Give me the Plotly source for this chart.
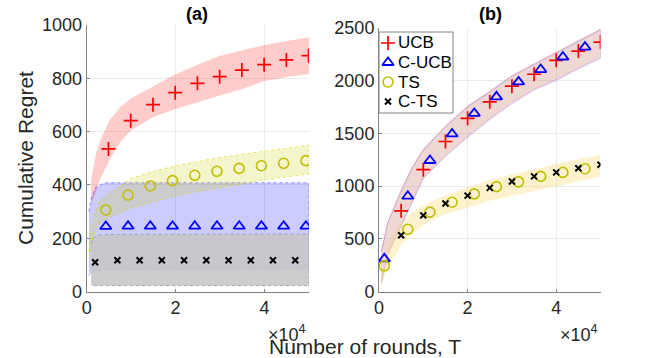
import plotly.graph_objects as go

# ---- panel (a) ----
x_ucb_a = [4900, 9900, 14900, 19900, 24900, 29900, 34900, 39900, 44900, 49900]
x_mid_a = [4300, 9300, 14300, 19300, 24300, 29300, 34300, 39300, 44300, 49300]
x_cts_a = [1900, 6900, 11900, 16900, 21900, 26900, 31900, 36900, 41900, 46900]
ucb_a = [535, 641, 701, 746, 781, 806, 831, 851, 869, 885]
cucb_a = [244, 245, 245, 245, 245, 245, 245, 245, 245, 245]
ts_a = [306, 362, 396, 416, 436, 451, 462, 472, 481, 491]
cts_a = [110, 117, 117, 117, 117, 117, 117, 117, 117, 117]

band_x_ucb_a = [1000, 2000, 3000, 5000, 7500, 10000, 15000, 20000, 25000, 30000, 35000, 40000, 45000, 50000]
ucb_a_hi = [420, 510, 565, 640, 690, 725, 770, 815, 852, 885, 905, 925, 940, 954]
ucb_a_lo = [330, 370, 420, 490, 560, 605, 655, 685, 710, 735, 760, 790, 805, 816]

band_x_cucb_a = [500, 1000, 2000, 4000, 50000]
cucb_a_hi = [300, 350, 390, 408, 408]
cucb_a_lo = [60, 70, 76, 82, 85]

band_x_ts_a = [500, 1000, 2000, 3000, 5000, 7500, 10000, 15000, 20000, 25000, 30000, 35000, 40000, 45000, 50000]
ts_a_hi = [150, 250, 300, 340, 370, 395, 425, 450, 472, 488, 503, 515, 526, 538, 549]
ts_a_lo = [110, 180, 235, 262, 280, 295, 313, 337, 360, 375, 390, 403, 420, 430, 441]

band_x_cts_a = [1000, 1500, 2000, 3000, 5000, 50000]
cts_a_hi = [180, 200, 207, 212, 214, 216]
cts_a_lo = [22, 22, 22, 22, 22, 22]

# ---- panel (b) ----
x_ucb_b = [5000, 10000, 15000, 20000, 25000, 30000, 35000, 40000, 45000, 50000]
x_mid_b = [1200, 6500, 11500, 16500, 21500, 26500, 31500, 36500, 41500, 46500]
ucb_b = [765, 1156, 1423, 1643, 1800, 1948, 2061, 2193, 2281, 2366]
cucb_b = [310, 904, 1243, 1495, 1690, 1847, 1989, 2106, 2225, 2319]
ts_b = [243, 590, 753, 847, 926, 995, 1040, 1092, 1130, 1165]
cts_b = [533, 722, 835, 910, 983, 1043, 1092, 1130, 1170, 1203]

band_x_b = [500, 2000, 5000, 7500, 10000, 15000, 20000, 25000, 30000, 35000, 40000, 45000, 50000]
ucb_b_hi = [380, 660, 960, 1180, 1350, 1570, 1760, 1900, 2050, 2160, 2270, 2380, 2490]
ucb_b_lo = [90, 360, 640, 860, 1080, 1290, 1470, 1640, 1790, 1920, 2010, 2120, 2220]
cucb_b_hi = [370, 650, 950, 1170, 1340, 1560, 1750, 1890, 2040, 2150, 2260, 2370, 2480]
cucb_b_lo = [80, 350, 630, 850, 1070, 1280, 1460, 1630, 1780, 1910, 2000, 2110, 2210]

band_x_ts_b = [500, 1500, 3000, 5000, 7500, 10000, 15000, 20000, 25000, 30000, 35000, 40000, 45000, 50000]
ts_b_hi = [200, 340, 520, 650, 750, 815, 910, 990, 1058, 1110, 1160, 1210, 1255, 1297]
ts_b_lo = [50, 175, 300, 440, 545, 630, 735, 795, 860, 910, 950, 1000, 1045, 1092]

legend_names = ["UCB", "C-UCB", "TS", "C-TS"]

FONT = "Liberation Sans, Arial, Helvetica, sans-serif"
TXT = "rgb(38,38,38)"
W, H = 664, 358


def px(x):
    return x / W


def py(y):
    return 1 - y / H


# marker styles per algorithm (symbol, color, size, line width)
STYLE = {
    "UCB": ("cross-thin", "rgb(255,0,0)", 10, 1.7),
    "C-UCB": ("triangle-up-open", "rgb(0,0,255)", 10, 1.8),
    "TS": ("circle-open", "rgb(191,191,0)", 10, 1.6),
    "C-TS": ("x-thin", "black", 6, 2),
}


def band(x, hi, lo, fill, edge, dash, xa, ya, width=1):
    return go.Scatter(
        x=list(x) + list(x)[::-1], y=list(hi) + list(lo)[::-1],
        fill="toself", fillcolor=fill, mode="lines",
        line=dict(color=edge, width=width, dash=dash),
        hoverinfo="skip", showlegend=False, xaxis=xa, yaxis=ya)


def pts(x, y, name, xa, ya):
    sym, col, size, lw = STYLE[name]
    return go.Scatter(
        x=x, y=y, mode="markers", name=name, showlegend=False,
        marker=dict(symbol=sym, size=size, color=col, line=dict(color=col, width=lw)),
        xaxis=xa, yaxis=ya)


fig = go.Figure()

# bands (a)
fig.add_trace(band(band_x_ucb_a, ucb_a_hi, ucb_a_lo, "rgba(255,0,0,0.2)", "rgba(255,0,0,0)", "solid", "x", "y"))
fig.add_trace(band(band_x_cucb_a, cucb_a_hi, cucb_a_lo, "rgba(0,0,255,0.2)", "rgba(0,0,255,0.4)", "dot", "x", "y"))
fig.add_trace(band(band_x_ts_a, ts_a_hi, ts_a_lo, "rgba(205,205,0,0.2)", "rgba(215,215,0,0.6)", "dot", "x", "y"))
fig.add_trace(band(band_x_cts_a, cts_a_hi, cts_a_lo, "rgba(198,198,198,0.88)", "rgba(120,120,120,0.5)", "dot", "x", "y"))

# bands (b)
fig.add_trace(band(band_x_b, ucb_b_hi, ucb_b_lo, "rgba(205,135,125,0.33)", "rgba(220,90,110,0.3)", "solid", "x2", "y2"))
fig.add_trace(band(band_x_b, cucb_b_hi, cucb_b_lo, "rgba(0,0,255,0)", "rgba(90,90,255,0.25)", "solid", "x2", "y2"))
fig.add_trace(band(band_x_ts_b, ts_b_hi, ts_b_lo, "rgba(250,222,130,0.4)", "rgba(250,222,130,0)", "solid", "x2", "y2"))

# markers (a)
fig.add_trace(pts(x_ucb_a, ucb_a, "UCB", "x", "y"))
fig.add_trace(pts(x_mid_a, cucb_a, "C-UCB", "x", "y"))
fig.add_trace(pts(x_mid_a, ts_a, "TS", "x", "y"))
fig.add_trace(pts(x_cts_a, cts_a, "C-TS", "x", "y"))

# markers (b)
fig.add_trace(pts(x_ucb_b, ucb_b, "UCB", "x2", "y2"))
fig.add_trace(pts(x_mid_b, cucb_b, "C-UCB", "x2", "y2"))
fig.add_trace(pts(x_mid_b, ts_b, "TS", "x2", "y2"))
fig.add_trace(pts(x_ucb_b, cts_b, "C-TS", "x2", "y2"))

# compact MATLAB-style legend box, drawn on an overlay axis in screen pixels
LG_X0, LG_Y0, LG_W, LG_ROW = 379, 32, 74, 19.5
LG_H = 4 * LG_ROW + 3
fig.add_trace(go.Scatter(
    x=[LG_X0, LG_X0 + LG_W, LG_X0 + LG_W, LG_X0, LG_X0],
    y=[LG_Y0, LG_Y0, LG_Y0 + LG_H, LG_Y0 + LG_H, LG_Y0],
    mode="lines", fill="toself", fillcolor="white",
    line=dict(color="rgb(130,130,130)", width=1),
    hoverinfo="skip", showlegend=False, xaxis="x3", yaxis="y3"))
annotations = []
for i, name in enumerate(legend_names):
    cy = LG_Y0 + 11 + i * LG_ROW
    sym, col, size, lw = STYLE[name]
    fig.add_trace(go.Scatter(
        x=[LG_X0 + 9], y=[cy], mode="markers", showlegend=False, hoverinfo="skip",
        marker=dict(symbol=sym, size=size, color=col, line=dict(color=col, width=lw)),
        xaxis="x3", yaxis="y3"))
    annotations.append(dict(text=name, x=px(LG_X0 + 17), y=py(cy),
                            xanchor="left", font=dict(size=17, color="black")))

xcommon = dict(range=[0, 50000], tickvals=[0, 20000, 40000], ticktext=["0", "2", "4"],
               showgrid=True, gridcolor="rgb(235,235,235)", zeroline=False,
               showline=True, linecolor="rgb(130,130,130)", linewidth=1,
               ticks="inside", ticklen=3, tickcolor="rgb(130,130,130)",
               tickfont=dict(size=18, color=TXT, family=FONT), automargin=False)
ycommon = dict(showgrid=True, gridcolor="rgb(235,235,235)", zeroline=False,
               showline=True, linecolor="rgb(130,130,130)", linewidth=1,
               ticks="inside", ticklen=3, tickcolor="rgb(130,130,130)",
               tickfont=dict(size=18, color=TXT, family=FONT), automargin=False)

annotations += [
    dict(text="<b>(a)</b>", x=px(197), y=py(14)),
    dict(text="<b>(b)</b>", x=px(490), y=py(14)),
    dict(text="×10<sup>4</sup>", x=px(287), y=py(333), font=dict(size=18, color=TXT)),
    dict(text="×10<sup>4</sup>", x=px(579), y=py(333), font=dict(size=18, color=TXT)),
    dict(text="Number of rounds, T", x=px(365), y=py(346), font=dict(size=21, color=TXT)),
    dict(text="Cumulative Regret", x=px(26), y=py(158), textangle=-90,
         font=dict(size=21, color=TXT)),
]
for a in annotations:
    a.setdefault("xref", "paper")
    a.setdefault("yref", "paper")
    a.setdefault("xanchor", "center")
    a.setdefault("yanchor", "middle")
    a.setdefault("showarrow", False)
    a.setdefault("font", dict(size=18, color="black"))

fig.update_layout(
    width=W, height=H,
    margin=dict(l=0, r=0, t=0, b=0, pad=0, autoexpand=False),
    paper_bgcolor="white", plot_bgcolor="rgba(0,0,0,0)",
    font=dict(family=FONT, color=TXT),
    showlegend=False, hovermode=False,
    xaxis=dict(domain=[px(86.7), px(309)], anchor="y", **xcommon),
    yaxis=dict(domain=[py(291.5), py(25)], anchor="x", range=[0, 1000],
               tickvals=[0, 200, 400, 600, 800, 1000], **ycommon),
    xaxis2=dict(domain=[px(379), px(600.5)], anchor="y2", **xcommon),
    yaxis2=dict(domain=[py(291.5), py(28)], anchor="x2", range=[0, 2500],
                tickvals=[0, 500, 1000, 1500, 2000, 2500], **ycommon),
    xaxis3=dict(domain=[0, 1], range=[0, W], visible=False, fixedrange=True, anchor="y3"),
    yaxis3=dict(domain=[0, 1], range=[H, 0], visible=False, fixedrange=True, anchor="x3"),
    annotations=annotations,
)

# drop the default 8px page margin so the figure sits at the window's corner
fig.write_html("out.html", config={"displayModeBar": False, "staticPlot": True},
               post_script="document.body.style.margin='0';")
